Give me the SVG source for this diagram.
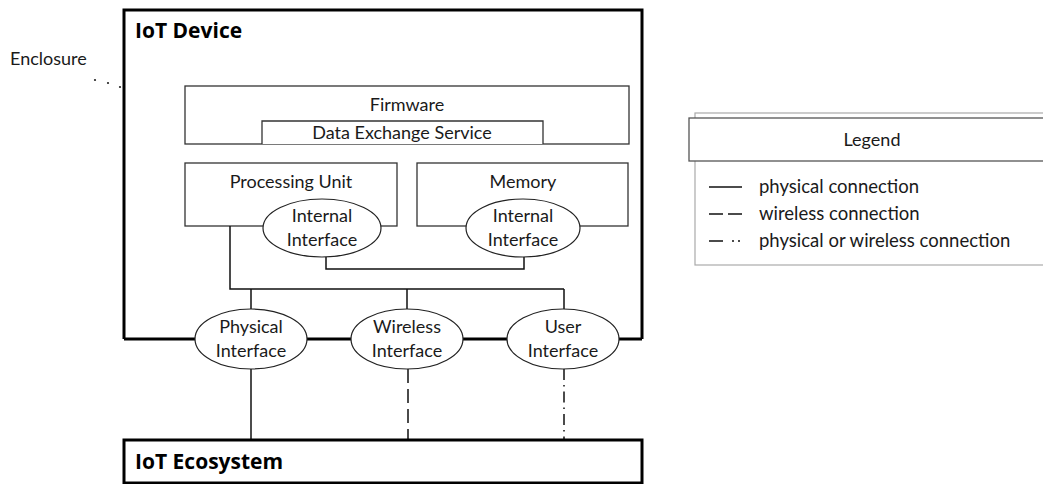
<svg xmlns="http://www.w3.org/2000/svg" width="1043" height="484" viewBox="0 0 1043 484">
  <style>
    text { font-family: Lato, "Liberation Sans", sans-serif; fill: #1a1a1a; }
    .lbl { font-size: 18px; text-anchor: middle; }
    .title { font-family: "Open Sans", "Liberation Sans", sans-serif; font-size: 21px; font-weight: bold; fill: #000; }
    .box { fill: #fff; stroke: #333; stroke-width: 1.3; }
    .thick { fill: none; stroke: #000; stroke-width: 3; }
    .ell { fill: #fff; stroke: #222; stroke-width: 1.2; }
    .wire { fill: none; stroke: #111; stroke-width: 1.5; }
    .leg { font-size: 18.5px; }
  </style>

  <!-- enclosure label and dotted pointer -->
  <g id="enclosure">
    <text x="10" y="65" style="font-size:18px">Enclosure</text>
    <circle cx="95" cy="80" r="1.1" fill="#222"/>
    <circle cx="108" cy="83" r="1.1" fill="#222"/>
    <circle cx="120" cy="87" r="1.1" fill="#222"/>
  </g>

  <!-- device enclosure outline (bottom edge runs through the interfaces) -->
  <g id="iot-device">
    <path class="thick" d="M124,339 V10 H642 V339"/>
    <text class="title" x="135" y="38">IoT Device</text>
  </g>

  <g id="firmware">
    <rect class="box" x="185" y="86" width="444" height="58"/>
    <text class="lbl" x="407" y="111">Firmware</text>
  </g>
  <g id="data-exchange-service">
    <path class="box" d="M262,144 V121 H543 V144"/>
    <text class="lbl" x="402" y="139">Data Exchange Service</text>
  </g>

  <g id="processing-unit">
    <rect class="box" x="185" y="163" width="212" height="63"/>
    <text class="lbl" x="291" y="188">Processing Unit</text>
  </g>
  <g id="memory">
    <rect class="box" x="417" y="163" width="211" height="63"/>
    <text class="lbl" x="523" y="188">Memory</text>
  </g>

  <!-- connectors -->
  <g id="connectors">
    <path class="wire" d="M326,257 V269 H524 V257"/>
    <path class="wire" d="M230,226 V289 H564 M251,289 V309 M407,289 V309 M564,289 V309"/>
    <path class="thick" d="M124,339 H195 M307,339 H351 M463,339 H507 M619,339 H642"/>
    <path class="wire" d="M251,369 V440"/>
    <path class="wire" d="M408,369 V440" stroke-dasharray="14 6"/>
    <path class="wire" d="M564,369 V440" stroke-dasharray="11 5 1.5 5"/>
  </g>

  <g id="pu-internal-interface">
    <ellipse class="ell" cx="322" cy="228" rx="59" ry="29"/>
    <text class="lbl" x="322" y="222">Internal</text>
    <text class="lbl" x="322" y="246">Interface</text>
  </g>
  <g id="mem-internal-interface">
    <ellipse class="ell" cx="523" cy="228" rx="57" ry="29"/>
    <text class="lbl" x="523" y="222">Internal</text>
    <text class="lbl" x="523" y="246">Interface</text>
  </g>

  <g id="physical-interface">
    <ellipse class="ell" cx="251" cy="339" rx="56" ry="30"/>
    <text class="lbl" x="251" y="333">Physical</text>
    <text class="lbl" x="251" y="357">Interface</text>
  </g>
  <g id="wireless-interface">
    <ellipse class="ell" cx="407" cy="339" rx="56" ry="30"/>
    <text class="lbl" x="407" y="333">Wireless</text>
    <text class="lbl" x="407" y="357">Interface</text>
  </g>
  <g id="user-interface">
    <ellipse class="ell" cx="563" cy="339" rx="56" ry="30"/>
    <text class="lbl" x="563" y="333">User</text>
    <text class="lbl" x="563" y="357">Interface</text>
  </g>

  <g id="iot-ecosystem">
    <rect class="thick" x="124" y="440" width="518" height="43" fill="#fff"/>
    <text class="title" x="135" y="469">IoT Ecosystem</text>
  </g>

  <!-- legend panel -->
  <g id="legend">
    <rect x="695" y="113" width="360" height="152" fill="#fff" stroke="#aaa" stroke-width="1.2"/>
    <rect x="689" y="118" width="366" height="43" fill="#fff" stroke="#555" stroke-width="1.3"/>
    <text class="lbl" x="872" y="146">Legend</text>
    <line x1="709" y1="187" x2="742" y2="187" stroke="#111" stroke-width="1.5"/>
    <line x1="709" y1="214" x2="742" y2="214" stroke="#111" stroke-width="1.5" stroke-dasharray="14 5"/>
    <path d="M709,241 H723 M732,241 H734 M738,241 H740" stroke="#111" stroke-width="1.5"/>
    <text class="leg" x="759" y="193">physical connection</text>
    <text class="leg" x="759" y="220">wireless connection</text>
    <text class="leg" x="759" y="247">physical or wireless connection</text>
  </g>
</svg>
